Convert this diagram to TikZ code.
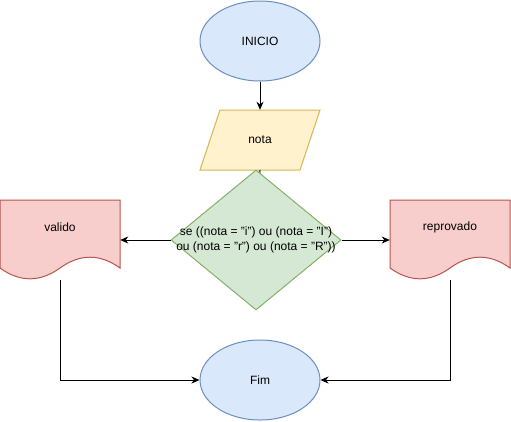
\documentclass[tikz,border=0pt]{standalone}
\usepackage{fontspec}
\setmainfont{Liberation Sans}
\usetikzlibrary{shapes.geometric,arrows.meta,backgrounds}
\definecolor{bfill}{HTML}{DAE8FC}\definecolor{bline}{HTML}{6C8EBF}
\definecolor{yfill}{HTML}{FFF2CC}\definecolor{yline}{HTML}{D6B656}
\definecolor{gfill}{HTML}{D5E8D4}\definecolor{gline}{HTML}{82B366}
\definecolor{rfill}{HTML}{F8CECC}\definecolor{rline}{HTML}{B85450}
\begin{document}
\begin{tikzpicture}[x=1pt,y=-1pt,
  every node/.style={font=\fontsize{12}{14.4}\selectfont, inner sep=0pt},
  term/.style={ellipse, draw=bline, fill=bfill, line width=1pt, minimum width=120pt, minimum height=80pt},
  docshape/.style={draw=rline, fill=rfill, line width=1pt},
  dataio/.style={draw=yline, fill=yfill, line width=1pt},
  decision/.style={diamond, draw=gline, fill=gfill, line width=1pt, minimum width=170pt, minimum height=140pt, aspect=1.2143},
  box/.style={minimum width=120pt, minimum height=80pt},
  conn/.style={line width=1pt, -{Stealth[length=8pt,width=7pt,inset=2.5pt]}},
  plain/.style={line width=1pt}]
\useasboundingbox (0,0) rectangle (511,421);

\node[term] (inicio) at (260,41) {INICIO};

% nota (parallelogram)
\node[minimum width=120pt, minimum height=60pt] (nota) at (260,140) {nota};
\begin{scope}[on background layer]
  \draw[dataio] (220,110) -- (320,110) -- (300,170) -- (200,170) -- cycle;
\end{scope}

% decision
\node[decision] (cond) at (256,240) {};
\node[align=center] (condtext) at (256,240) {se ((nota = "i") ou (nota = "I")\\ou (nota = "r") ou (nota = "R"))};
\begin{scope}[on background layer]
  \draw[plain] (nota.south) -- (cond.center);
\end{scope}

% valido document
\draw[docshape, shift={(0,200)}] (0,0) -- (120,0) -- (120,68)
  .. controls (100,53.6) and (80,53.6) .. (60,68)
  .. controls (40,82.4) and (20,82.4) .. (0,68) -- cycle;
\node[box] (validobox) at (60,240) {};
\node (valido) at (60,227) {valido};

% reprovado document
\draw[docshape, shift={(390,200)}] (0,0) -- (120,0) -- (120,68)
  .. controls (100,53.6) and (80,53.6) .. (60,68)
  .. controls (40,82.4) and (20,82.4) .. (0,68) -- cycle;
\node[box] (reprovadobox) at (450,240) {};
\node (reprovado) at (450,227) {reprovado};

\node[term] (fim) at (260,380) {Fim};

% connectors
\draw[conn] (inicio.south) -- (nota.north);
\draw[conn] (cond.west) -- (validobox.east);
\draw[conn] (cond.east) -- (reprovadobox.west);
\draw[conn] (validobox.south) |- (fim.west);
\draw[conn] (reprovadobox.south) |- (fim.east);
\end{tikzpicture}
\end{document}
